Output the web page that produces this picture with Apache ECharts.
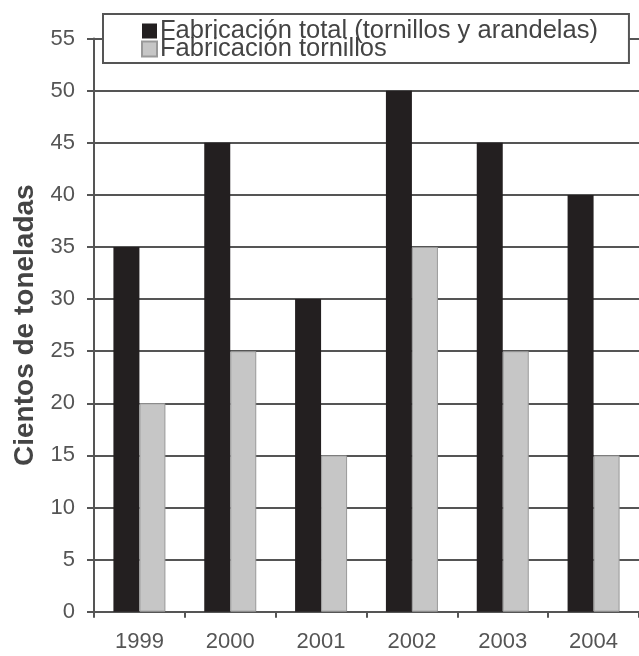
<!DOCTYPE html>
<html><head><meta charset="utf-8">
<script src="https://cdn.jsdelivr.net/npm/echarts@6/dist/echarts.min.js"></script>
<style>html,body{margin:0;padding:0;background:#fff}#c{width:639px;height:656px}</style>
</head><body><div id="c"></div>
<script>
const years = ['1999','2000','2001','2002','2003','2004'];
const totalSeries = [35, 45, 30, 50, 45, 40];
const tornillosSeries = [20, 25, 15, 35, 25, 15];
const seriesNames = ['Fabricación total (tornillos y arandelas)', 'Fabricación tornillos'];
const yTicks = {min: 0, max: 55, interval: 5};

const chart = echarts.init(document.getElementById('c'), null, {renderer: 'canvas'});
const font = 'Liberation Sans, Arial, sans-serif';
chart.setOption({
  animation: false,
  backgroundColor: '#fff',
  grid: {left: 94, right: -1, top: 38.6, bottom: 44.3, containLabel: false},
  legend: {
    orient: 'vertical', left: 103, top: 14,
    padding: [4, 31, 1, 38], itemGap: -8,
    itemWidth: 15, itemHeight: 15, icon: 'rect',
    borderColor: '#555', borderWidth: 2, backgroundColor: '#fff',
    textStyle: {fontFamily: font, fontSize: 25.5, lineHeight: 18, color: '#444', padding: [0,0,0,-2]},
    data: seriesNames
  },
  xAxis: {
    type: 'category', data: years,
    axisLine: {lineStyle: {color: '#555', width: 2}},
    axisTick: {show: true, length: 6, lineStyle: {color: '#555', width: 2}},
    axisLabel: {fontFamily: font, fontSize: 22, color: '#555', margin: 19}
  },
  yAxis: {
    type: 'value', min: yTicks.min, max: yTicks.max, interval: yTicks.interval,
    name: 'Cientos de toneladas', nameLocation: 'middle', nameGap: 54,
    nameTextStyle: {fontFamily: font, fontSize: 28, fontWeight: 'bold', color: '#444'},
    axisLine: {show: true, lineStyle: {color: '#555', width: 2}},
    axisTick: {show: true, length: 7, lineStyle: {color: '#555', width: 2}},
    axisLabel: {fontFamily: font, fontSize: 22, color: '#555', margin: 19},
    splitLine: {show: true, lineStyle: {color: '#555', width: 2}}
  },
  series: [
    {name: seriesNames[0], type: 'bar', data: totalSeries, barWidth: 26, barGap: '0%',
     itemStyle: {color: '#231f20'}},
    {name: seriesNames[1], type: 'bar', data: tornillosSeries, barWidth: 26,
     itemStyle: {color: '#c6c6c6', borderColor: '#999', borderWidth: 1}}
  ]
});
</script></body></html>
